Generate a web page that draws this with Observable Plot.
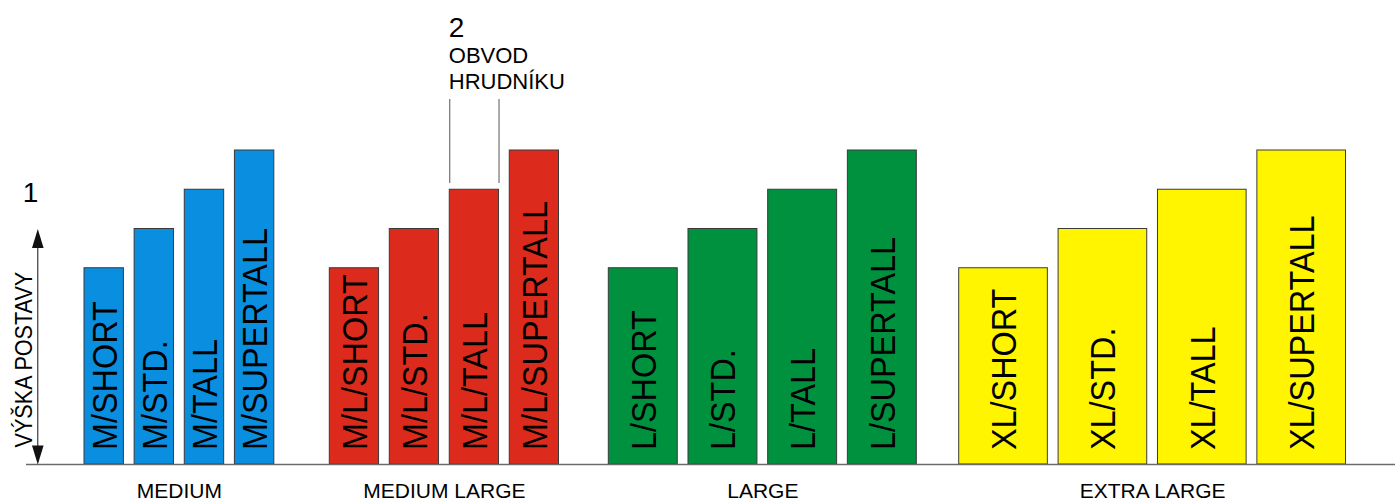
<!DOCTYPE html>
<html>
<head>
<meta charset="utf-8">
<script src="https://cdn.jsdelivr.net/npm/d3@7"></script>
<script src="https://cdn.jsdelivr.net/npm/@observablehq/plot@0.6"></script>
<style>
  html, body { margin: 0; padding: 0; background: #fff; }
  #chart svg { display: block; }
</style>
</head>
<body>
<div id="chart"></div>
<script>
// ---------- data ----------
const groups = ["MEDIUM", "MEDIUM LARGE", "LARGE", "EXTRA LARGE"];
const groupCodes = ["M", "M/L", "L", "XL"];
const groupChest = [4, 5, 7, 9];            // relative chest girth (bar width)
const groupColors = ["#0a8fe0", "#dc2b1c", "#00913f", "#fff500"];
const fits = ["SHORT", "STD.", "TALL", "SUPERTALL"];
const fitHeights = [5, 6, 7, 8];            // relative body height (bar height)
const heightLabel = ["1"];
const heightTitle = ["VÝŠKA POSTAVY"];
const chestLabel = ["2"];
const chestTitle = ["OBVOD", "HRUDNÍKU"];

// ---------- layout ----------
const W = 1395, H = 501, BASE = 464;
const X_UNIT = 9.85, Y_UNIT = 39.25;
const ux = px => px / X_UNIT;
const uy = py => (BASE - py) / Y_UNIT;
const groupStartPx = [84, 329.3, 608.3, 958.7];
const GAP = 1.09;

const bars = [];
groups.forEach((g, gi) => {
  let x = ux(groupStartPx[gi]);
  fits.forEach((f, fi) => {
    bars.push({
      group: g,
      label: `${groupCodes[gi]}/${f}`,
      x1: x,
      x2: x + groupChest[gi],
      h: fitHeights[fi],
      color: groupColors[gi]
    });
    x += groupChest[gi] + GAP;
  });
});
const groupRows = groups.map(g => {
  const b = bars.filter(d => d.group === g);
  return {name: g, cx: (b[0].x1 + b[b.length - 1].x2) / 2};
});
const target = bars.find(d => d.label === "M/L/TALL");

const arrowUp = {draw(ctx) { ctx.moveTo(0, 0); ctx.lineTo(-5.8, 19); ctx.lineTo(5.8, 19); ctx.closePath(); }};
const arrowDown = {draw(ctx) { ctx.moveTo(0, 0); ctx.lineTo(-5.8, -19); ctx.lineTo(5.8, -19); ctx.closePath(); }};

const FONT = "Liberation Sans, Arial, Helvetica, sans-serif";
const arrowX = ux(37.3);

const chart = Plot.plot({
  width: W,
  height: H,
  margin: 0,
  x: {domain: [0, W / X_UNIT], axis: null},
  y: {domain: [uy(H), uy(0)], axis: null},
  color: {type: "identity"},
  style: {fontFamily: FONT, background: "#fff", color: "#000"},
  marks: [
    Plot.rect(bars, {x1: "x1", x2: "x2", y1: 0, y2: "h", fill: "color", stroke: "#3a3a3a", strokeWidth: 1}),
    Plot.ruleY([0], {x1: ux(26), x2: W / X_UNIT, stroke: "#6b6b6b", strokeWidth: 1.5}),
    Plot.text(bars, {
      x: d => (d.x1 + d.x2) / 2, y: 0, text: "label", rotate: -90,
      textAnchor: "start", lineAnchor: "middle", fontSize: 36, dx: 1, dy: -14.5,
      fill: "#000", fontFamily: FONT
    }),
    Plot.text(groupRows, {
      x: "cx", y: 0, text: "name", lineAnchor: "bottom", dy: 33,
      fontSize: 21, fill: "#000", fontFamily: FONT
    }),
    // body height arrow
    Plot.ruleX([fitHeights[1]], {x: arrowX, y1: 0.3, y2: d => d - 0.3, stroke: "#111", strokeWidth: 1}),
    Plot.dot([fitHeights[1]], {x: arrowX, y: d => d, symbol: arrowUp, fill: "#111", stroke: "none"}),
    Plot.dot([0], {x: arrowX, y: d => d, symbol: arrowDown, fill: "#111", stroke: "none"}),
    Plot.text(heightLabel, {x: ux(30), y: uy(201), text: d => d, lineAnchor: "bottom", fontSize: 28, fill: "#000", fontFamily: FONT}),
    Plot.text(heightTitle, {
      x: ux(31.5), y: uy(447), text: d => d, rotate: -90, textAnchor: "start",
      lineAnchor: "bottom", fontSize: 23, fill: "#000", fontFamily: FONT
    }),
    // chest annotation
    Plot.ruleX([target.x1, target.x2], {x: d => d, y1: target.h + 0.16, y2: uy(99), stroke: "#555", strokeWidth: 1}),
    Plot.text(chestLabel, {x: target.x1, y: uy(36), text: d => d, textAnchor: "start", lineAnchor: "bottom", fontSize: 28, dx: -1, fill: "#000", fontFamily: FONT}),
    Plot.text(chestTitle, {
      x: target.x1, y: (d, i) => uy(62 + i * 26.5), text: d => d, textAnchor: "start",
      lineAnchor: "bottom", fontSize: 22, dx: -1, fill: "#000", fontFamily: FONT
    })
  ]
});

document.getElementById("chart").appendChild(chart);

// slightly condensed lettering like the reference
chart.querySelectorAll("text").forEach(t => {
  const fs = parseFloat(getComputedStyle(t).fontSize);
  const tr = t.getAttribute("transform") || "";
  if (!tr.includes("rotate")) return;
  if (fs === 36) t.setAttribute("transform", tr + " scale(0.9,1)");
  else if (fs === 23) t.setAttribute("transform", tr + " scale(0.94,1)");
});
</script>
</body>
</html>
